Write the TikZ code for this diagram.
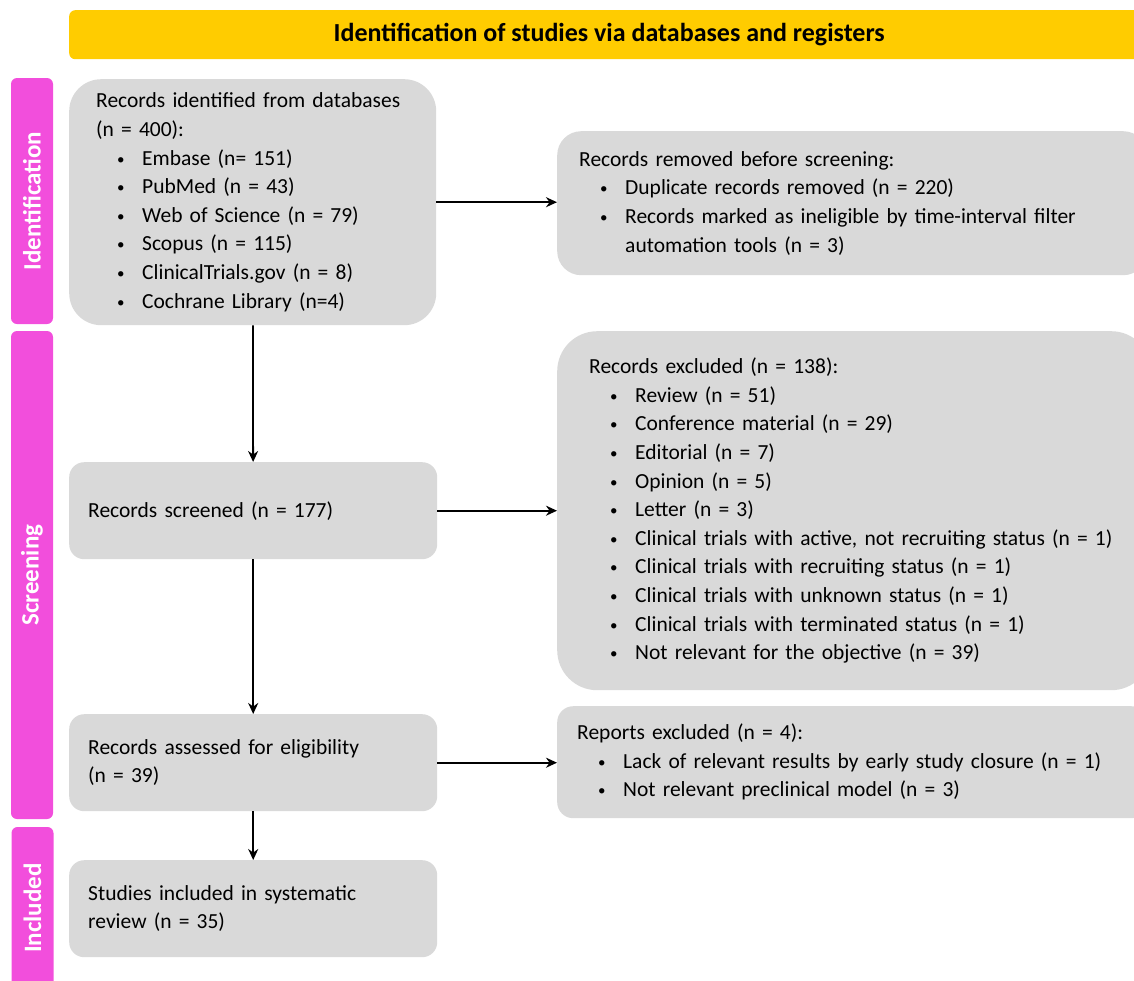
\documentclass[tikz,border=0pt]{standalone}
\usepackage{fontspec}
\setmainfont{Carlito}
\usepackage{tikz}
\usetikzlibrary{arrows.meta}
\definecolor{boxgray}{RGB}{217,217,217}
\definecolor{phasepink}{RGB}{242,78,220}
\definecolor{bannergold}{RGB}{255,204,0}
\newcommand{\blt}[1]{\hspace*{21pt}\makebox[25pt][l]{\raisebox{1pt}{\fontsize{15}{15}\selectfont\textbullet}}#1}

\begin{document}
\begin{tikzpicture}[x=1pt, y=-1pt, >={Stealth[length=11pt,width=10pt]},
  box/.style={fill=boxgray, anchor=north west, align=left, inner ysep=0pt, font=\fontsize{21.5}{28.6}\selectfont},
  phase/.style={fill=phasepink, rounded corners=6pt, rotate=90, text=white, font=\fontsize{25}{30}\selectfont\bfseries, minimum height=42pt, inner sep=0pt}]
\useasboundingbox (0,0) rectangle (1134,980);
\clip (0,0) rectangle (1134,980);
% banner
\node[fill=bannergold, rounded corners=6pt, anchor=north west, minimum width=1080pt, minimum height=49pt, font=\fontsize{26}{30}\selectfont\bfseries] (banner) at (69,10) {Identification of studies via databases and registers};
% phases
\node[phase, minimum width=246pt] (idph) at (32,201) {Identification};
\node[phase, minimum width=488pt] (scrph) at (32,575) {Screening};
\node[phase, minimum width=162pt] (incph) at (32.5,908) {Included};
% left column
\node[box, rounded corners=32pt, minimum width=367pt, minimum height=246pt, inner xsep=27pt, text width=313pt] (idbox) at (69,79)
  {Records identified from databases\\(n = 400):\\
   \blt{Embase (n= 151)}\\\blt{PubMed (n = 43)}\\\blt{Web of Science (n = 79)}\\
   \blt{Scopus (n = 115)}\\\blt{ClinicalTrials.gov (n = 8)}\\\blt{Cochrane Library (n=4)}};
\node[box, rounded corners=15pt, minimum width=368pt, minimum height=97pt, inner xsep=19pt, text width=330pt] (scrbox) at (69,462)
  {Records screened (n = 177)};
\node[box, rounded corners=15pt, minimum width=368pt, minimum height=97pt, inner xsep=19pt, text width=330pt] (eligbox) at (69,714)
  {Records assessed for eligibility\\(n = 39)};
\node[box, rounded corners=15pt, minimum width=368pt, minimum height=97pt, inner xsep=19pt, text width=330pt] (inclbox) at (69,860)
  {Studies included in systematic\\review (n = 35)};
% right column
\node[box, rounded corners=24pt, minimum width=590pt, minimum height=144pt, inner xsep=22pt, text width=546pt] (rembox) at (557,131)
  {Records removed before screening:\\
   \blt{Duplicate records removed (n = 220)}\\
   \blt{Records marked as ineligible by time-interval filter}\\
   \hspace*{46pt}automation tools (n = 3)};
\node[box, rounded corners=40pt, minimum width=594pt, minimum height=359pt, inner xsep=32pt, text width=530pt] (excbox) at (557,331)
  {Records excluded (n = 138):\\
   \blt{Review (n = 51)}\\\blt{Conference material (n = 29)}\\\blt{Editorial (n = 7)}\\
   \blt{Opinion (n = 5)}\\\blt{Letter (n = 3)}\\
   \blt{Clinical trials with active, not recruiting status (n = 1)}\\
   \blt{Clinical trials with recruiting status (n = 1)}\\
   \blt{Clinical trials with unknown status (n = 1)}\\
   \blt{Clinical trials with terminated status (n = 1)}\\
   \blt{Not relevant for the objective (n = 39)}};
\node[box, rounded corners=16pt, minimum width=590pt, minimum height=112pt, inner xsep=20pt, text width=550pt] (repbox) at (557,706)
  {Reports excluded (n = 4):\\
   \blt{Lack of relevant results by early study closure (n = 1)}\\
   \blt{Not relevant preclinical model (n = 3)}};
% arrows
\draw[->, line width=1.8pt] (idbox) -- (scrbox);
\draw[->, line width=1.8pt] (scrbox) -- (eligbox);
\draw[->, line width=1.8pt] (eligbox) -- (inclbox);
\draw[->, line width=1.8pt] (idbox.east) -- (idbox.east -| rembox.west);
\draw[->, line width=1.8pt] (scrbox.east) -- (scrbox.east -| excbox.west);
\draw[->, line width=1.8pt] (eligbox.east) -- (eligbox.east -| repbox.west);
\end{tikzpicture}
\end{document}
